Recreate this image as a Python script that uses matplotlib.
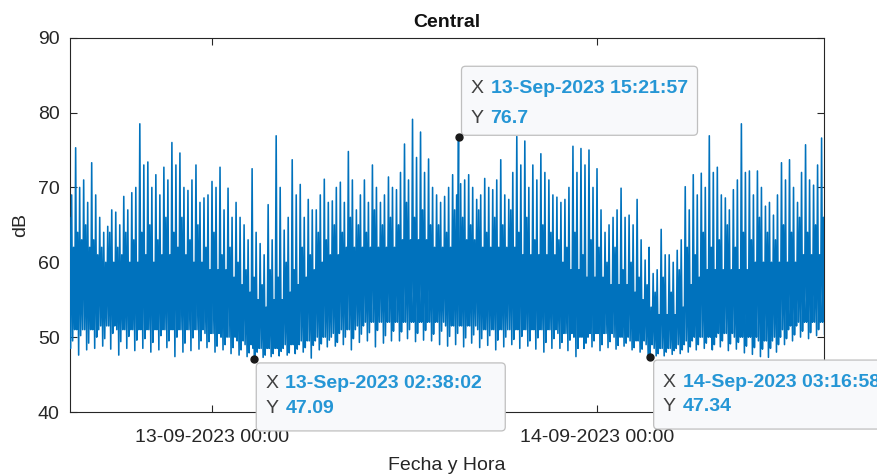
import numpy as np
import matplotlib
matplotlib.use("Agg")
import matplotlib.pyplot as plt
import matplotlib.dates as mdates
from matplotlib.patches import FancyBboxPatch
from matplotlib.transforms import ScaledTranslation

# Valores (dB), un bloque cada 30 min desde 12-09-2023 15:00
inicio = np.datetime64("2023-09-12T15:00")
pico = [71.7, 75.3, 71.0, 73.3, 66.0, 64.8, 66.7, 68.8, 69.3, 78.5,
        73.4, 71.7, 72.7, 76.0, 74.6, 69.6, 73.0, 68.6, 70.8, 72.7,
        69.9, 68.0, 65.0, 72.5, 62.5, 67.7, 76.9, 64.3, 73.7, 70.4,
        68.4, 67.0, 71.1, 68.2, 70.7, 74.8, 67.0, 71.0, 73.0, 68.0,
        71.4, 69.7, 75.8, 79.1, 77.4, 73.8, 69.0, 68.8, 71.7, 70.5,
        71.7, 68.4, 71.2, 69.7, 73.7, 68.4, 76.8, 76.2, 73.0, 74.5,
        71.0, 68.7, 68.4, 75.5, 75.2, 75.0, 72.5, 64.0, 66.0, 69.9,
        66.3, 68.4, 60.3, 58.5, 64.4, 61.0, 61.6, 70.1, 71.7, 71.9,
        76.9, 72.7, 68.6, 69.7, 78.5, 72.2, 72.2, 67.5, 66.3, 73.3,
        73.7, 68.0, 75.7, 70.3, 76.6]
pico2 = [69, 70, 68, 69, 64, 67, 65, 67, 70, 73,
         70, 69, 71, 73, 70, 71, 68, 69, 70, 67,
         66, 66, 63, 64, 61, 63, 70, 66, 69, 66,
         67, 69, 68, 70, 68, 71, 69, 68, 70, 69,
         70, 72, 71, 74, 72, 70, 68, 70, 69, 71,
         70, 69, 70, 71, 69, 72, 73, 70, 71, 72,
         69, 68, 70, 72, 73, 70, 67, 65, 67, 66,
         65, 63, 62, 59, 61, 60, 63, 67, 69, 70,
         72, 69, 67, 71, 72, 69, 70, 68, 69, 71,
         70, 72, 71, 73, 72]
sup2 = [66, 64, 65, 63, 62, 64, 62, 64, 63,
        64, 65, 63, 66, 64, 66, 63, 65, 62, 64, 61, 62, 60, 59, 58,
        57, 59, 58, 60, 59, 62, 61,
        64, 63, 65, 64, 66, 65, 64, 67, 65, 66, 65, 68, 66, 67, 65,
        65, 64, 67, 66, 65, 67, 64, 66, 65, 67, 64, 66, 63, 65, 64,
        63, 62, 64, 61, 63, 62, 60, 62, 59, 60, 58,
        57, 56, 58, 56, 59,
        62, 61, 64, 62, 63, 65, 62, 64, 63, 66, 64, 63, 65, 64, 66, 64, 65, 66]
nucleo_sup = [62, 63, 62, 61, 60, 60, 61, 60, 60,
              61, 60, 61, 61, 62, 61, 60, 60, 59, 59, 59, 58, 57, 56, 55,
              54, 55, 55, 56, 57, 58, 59,
              60, 61, 61, 62, 62, 62, 62, 62, 62, 62, 63, 63, 63, 63, 62,
              62, 62, 62, 63, 63, 62, 62, 62, 62, 62, 61, 61, 61, 61, 61,
              60, 59, 59, 58, 58, 58, 57, 57, 57, 56, 55,
              54, 53, 53, 53, 54,
              57, 58, 59, 59, 59, 59, 59, 59, 60, 60, 60, 60, 60, 60, 61, 61, 61, 61]
nucleo_inf = [51, 51, 51, 51, 51.5, 51.5, 51, 51, 51,
              51, 51, 51, 51, 51, 51, 51, 51, 50.5, 50.5, 50, 50,
              49.5, 49, 48.5, 48.5, 48.5, 48.5, 49, 49,
              49.5, 49.5, 50, 50, 50.5, 51, 51, 51.5, 52, 52, 52, 52,
              52, 52, 52, 52, 52, 52, 51.5, 51.5, 51.5, 51.5,
              51, 51, 51, 51, 51, 51, 51, 51, 51, 51,
              50.5, 50.5, 50, 50, 50.5, 50.5, 50.5, 50, 50, 49.5, 49.5,
              49, 48.5, 48.5, 48.5, 49, 49.5, 50,
              50, 50, 50.5, 50.5, 50, 50, 50, 49.5, 49.5, 50, 51, 51.5, 52, 52, 52, 52]
inf2 = [49.5, 50.2, 49.2, 50.0, 49.8, 50.5, 49.4, 50.1, 49.6,
        49.8, 49.3, 50.2, 49.5, 50.0, 49.2, 49.9, 49.5, 49.4, 48.8, 49.0, 48.6,
        48.3, 47.9, 48.0, 47.6, 47.8, 48.1, 47.9, 48.4,
        48.6, 48.9, 49.1, 49.6, 49.3, 50.0, 49.8, 50.4, 50.6, 50.9, 50.2, 50.8,
        50.7, 51.0, 50.5, 50.9, 50.4, 50.8, 50.1, 50.5, 49.9, 50.3,
        49.8, 50.2, 49.6, 50.0, 49.7, 50.1, 49.5, 49.9, 49.3, 49.8,
        49.3, 49.6, 48.5, 49.2, 49.5, 49.0, 49.4, 48.9, 49.2, 48.6, 48.4,
        48.1, 47.8, 48.0, 48.2, 48.3, 48.7, 49.0,
        49.2, 49.0, 49.5, 49.1, 49.3, 48.8, 48.6, 48.4, 48.5, 49.0, 49.8, 50.3,
        50.8, 50.6, 51.0, 50.9]
valle = [48.5, 47.6, 48.3, 48.5, 48.8, 48.4, 47.6, 48.5, 48.2,
         48.5, 48.0, 48.3, 48.6, 47.4, 48.0, 48.2, 48.4, 48.6, 48.0, 48.3, 47.8,
         47.6, 47.4, 47.3, 47.3, 47.4, 47.5, 47.6, 47.8,
         48.0, 47.2, 48.3, 48.7, 48.8, 49.0, 48.3, 49.3, 49.5, 48.7, 49.2, 49.5,
         49.5, 49.8, 49.4, 49.6, 49.5, 49.0, 48.8,
         49.0, 48.7, 49.2, 48.6, 48.9, 48.3, 48.7, 49.0, 48.5, 48.8, 48.4, 48.0, 48.5,
         48.5, 48.2, 47.4, 48.5, 48.7, 48.2, 48.6, 48.4, 48.8, 48.3, 48.0,
         47.6, 47.5, 47.5, 47.7, 47.8, 48.0, 48.3,
         48.5, 48.3, 48.7, 48.2, 48.4, 47.9, 47.7, 47.4, 47.3, 48.0, 49.0, 49.5,
         50.0, 49.8, 50.2, 50.3]

# Datatips
tip_t = np.array(["2023-09-13T15:21:57", "2023-09-13T02:38:02", "2023-09-14T03:16:58"],
                 dtype="datetime64[s]")
tip_y = [76.7, 47.09, 47.34]
tip_txt = ["13-Sep-2023 15:21:57", "13-Sep-2023 02:38:02", "14-Sep-2023 03:16:58"]
tip_ytxt = ["76.7", "47.09", "47.34"]

azul = "#0072BD"
gris = "#262626"

t = mdates.date2num(inicio + np.arange(len(pico)) * np.timedelta64(30, "m"))
# 8 muestras por bloque, alternando altos y bajos
sub = np.arange(8) * 3.75 / 1440.0
xs = (t[:, None] + sub[None, :]).ravel()
ys = np.column_stack([pico, nucleo_inf, sup2, valle,
                      pico2, inf2, nucleo_sup, nucleo_inf]).ravel()
tn = mdates.date2num(tip_t)
xs = np.concatenate([xs, tn])
ys = np.concatenate([ys, tip_y])
orden = np.argsort(xs)
xs, ys = xs[orden], ys[orden]

plt.rcParams["font.family"] = ["Liberation Sans", "DejaVu Sans"]
fig = plt.figure(figsize=(8.77, 4.76), dpi=100)
ax = fig.add_axes([69.5 / 877, 1 - 412 / 476, (824 - 69.5) / 877, (412 - 37.7) / 476])

ax.plot(xs, ys, color=azul, lw=1.15, zorder=3)

ax.set_xlim(mdates.date2num(np.datetime64("2023-09-12T15:07")),
            mdates.date2num(np.datetime64("2023-09-14T14:09")))
ax.set_ylim(40, 90)
ax.set_yticks(np.arange(40, 91, 10))
ax.set_xticks(mdates.date2num(np.array(["2023-09-13", "2023-09-14"], dtype="datetime64[m]")))
ax.xaxis.set_major_formatter(mdates.DateFormatter("%d-%m-%Y %H:%M"))
ax.tick_params(direction="in", length=5, width=0.8, top=True, right=True,
               colors=gris, labelsize=14)
ax.tick_params(axis="x", pad=12)
ax.tick_params(axis="y", pad=7)
for s in ax.spines.values():
    s.set_color(gris)
    s.set_linewidth(0.8)

ax.set_title("Central", fontsize=14, fontweight="bold", color="#111111", pad=8)
ax.set_xlabel("Fecha y Hora", fontsize=14, color=gris, labelpad=8)
ax.set_ylabel("dB", fontsize=14, color=gris, labelpad=6)

# cajas de datatip (pulgadas relativas al punto)
cajas = [(0.03, 0.02, 2.36, 0.69, 0.49, 0.19),
         (0.02, -0.72, 2.49, 0.68, -0.25, -0.50),
         (0.04, -0.72, 2.49, 0.69, -0.25, -0.49)]
for i in range(3):
    bx, by, bw, bh, l1, l2 = cajas[i]
    tr = fig.dpi_scale_trans + ScaledTranslation(tn[i], tip_y[i], ax.transData)
    caja = FancyBboxPatch((bx, by), bw, bh, boxstyle="round,pad=0,rounding_size=0.04",
                          transform=tr, fc="#F8F9FB", ec="#BFBFBF", lw=0.9,
                          clip_on=False, zorder=5)
    ax.add_artist(caja)
    for etiqueta, valor, yy in (("X", tip_txt[i], l1), ("Y", tip_ytxt[i], l2)):
        ax.text(bx + 0.09, yy, etiqueta, transform=tr, fontsize=14,
                color="#404040", va="center", ha="left", clip_on=False, zorder=6)
        ax.text(bx + 0.29, yy, valor, transform=tr, fontsize=14, fontweight="bold",
                color="#2596D5", va="center", ha="left", clip_on=False, zorder=6)

ax.plot(tn, tip_y, "o", ms=5, color="#1A1A1A", zorder=7, clip_on=False)

fig.savefig("out.png", dpi=100)
